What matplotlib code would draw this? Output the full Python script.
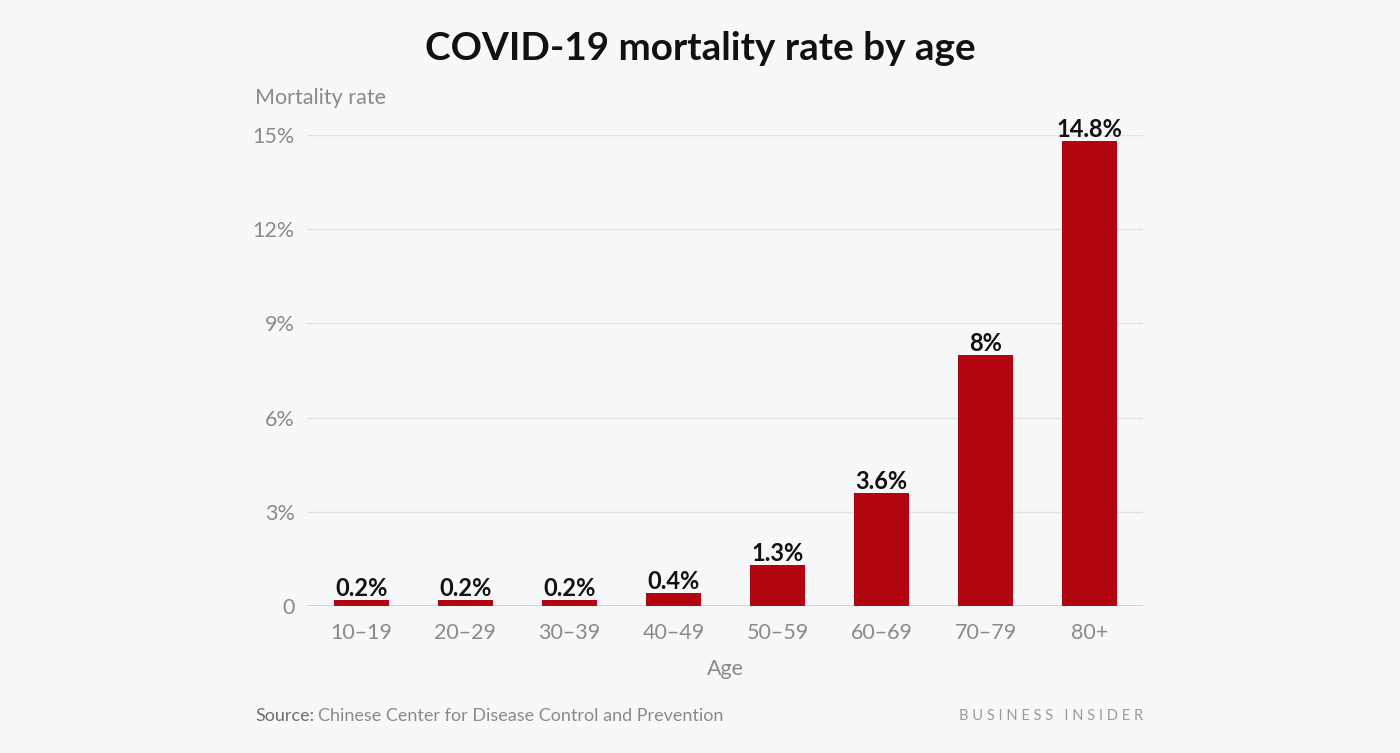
import numpy as np
import matplotlib.pyplot as plt

# Data
ages = ['10\u201319', '20\u201329', '30\u201339', '40\u201349', '50\u201359', '60\u201369', '70\u201379', '80+']
rates = [0.2, 0.2, 0.2, 0.4, 1.3, 3.6, 8.0, 14.8]
rate_labels = ['0.2%', '0.2%', '0.2%', '0.4%', '1.3%', '3.6%', '8%', '14.8%']
yticks = [0, 3, 6, 9, 12, 15]
ytick_labels = ['0', '3%', '6%', '9%', '12%', '15%']

bg = '#f7f8fa'
bar_color = '#b20510'
grey = '#8a8a8a'

plt.rcParams['font.family'] = ['Lato', 'DejaVu Sans']

fig = plt.figure(figsize=(14, 7.53), dpi=100, facecolor=bg)
ax = fig.add_axes([0.2193, 0.1952, 0.5971, 0.6255], facecolor=bg)

x = np.arange(len(ages))
ax.bar(x, rates, width=0.53, color=bar_color, zorder=3)

# value labels on top of bars
for xi, r, lab in zip(x, rates, rate_labels):
    ax.annotate(lab, (xi, r), xytext=(0, 0), textcoords='offset points',
                ha='center', va='bottom', fontsize=17, fontweight='bold',
                color='#111111', zorder=4, annotation_clip=False)

ax.set_xlim(-0.52, 7.51)
ax.set_ylim(0, 15)
ax.set_yticks(yticks)
ax.set_yticklabels(ytick_labels)
ax.set_xticks(x)
ax.set_xticklabels(ages)
ax.tick_params(axis='y', length=0, pad=9, labelsize=15.5, labelcolor=grey)
ax.tick_params(axis='x', length=0, pad=12, labelsize=15.5, labelcolor=grey)

ax.grid(axis='y', color='#e2e3e5', linewidth=1, zorder=0)
for s in ax.spines.values():
    s.set_visible(False)
ax.axhline(0, color='#cfd0d2', linewidth=1.2, zorder=2)

ax.set_xlabel('Age', fontsize=15.5, color=grey, labelpad=12)

fig.text(255 / 1400, 1 - 98 / 753, 'Mortality rate', fontsize=15.5, color=grey,
         ha='left', va='center')

fig.text(0.5, 1 - 48 / 753, 'COVID-19 mortality rate by age', fontsize=27.8,
         fontweight='bold', color='#111111', ha='center', va='center')

src = fig.text(255 / 1400, 1 - 716 / 753, 'Source:', fontsize=13,
               color='#6e6e6e', ha='left', va='center')
fig.canvas.draw()
bb = src.get_window_extent()
fig.text((bb.x1 + 4) / 1400, 1 - 716 / 753,
         'Chinese Center for Disease Control and Prevention', fontsize=13,
         color=grey, ha='left', va='center')

fig.text(1143 / 1400, 1 - 716 / 753, 'B U S I N E S S   I N S I D E R',
         fontsize=10.5, color='#9a9a9a', ha='right', va='center')

fig.savefig('out.png', dpi=100, facecolor=bg)
